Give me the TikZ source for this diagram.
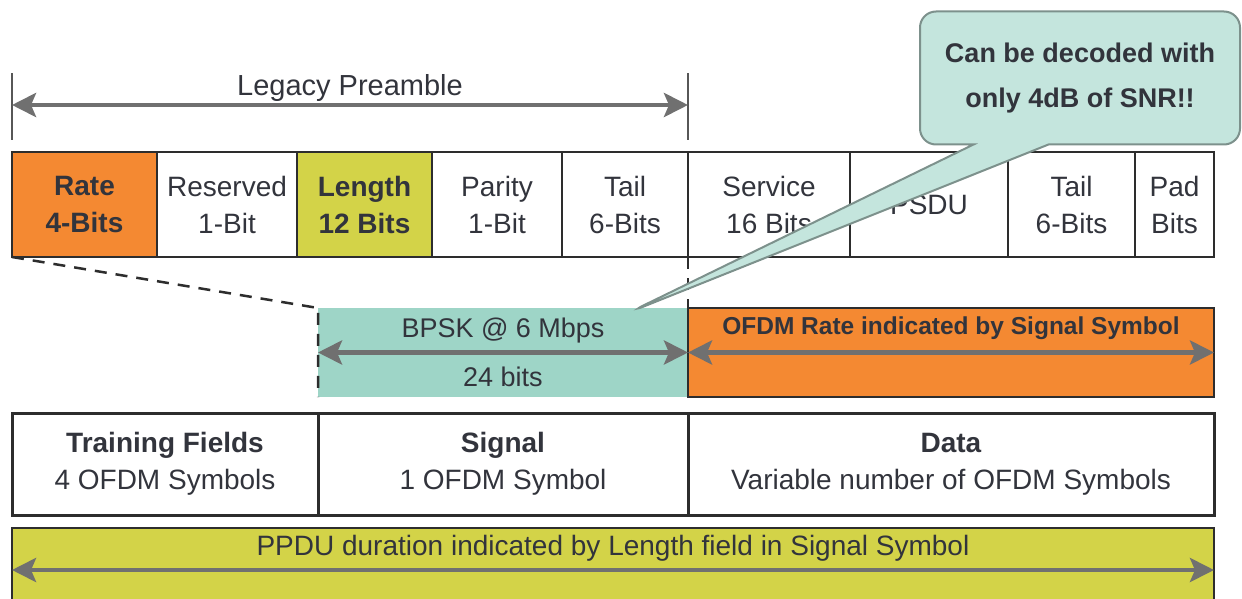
\documentclass[tikz,border=0pt]{standalone}
\usepackage{fontspec}
\setmainfont{Liberation Sans}
\usepackage{xcolor}
\usepackage{tikz}
\usetikzlibrary{arrows,arrows.meta}
\usetikzlibrary{calc}
\usetikzlibrary{positioning}
\usetikzlibrary{shapes.callouts}

\definecolor{rateorange}{RGB}{244,137,50}
\definecolor{bpskteal}{RGB}{158,213,199}
\definecolor{lenyellow}{RGB}{211,211,72}
\definecolor{notefill}{RGB}{196,229,221}
\definecolor{notedraw}{RGB}{125,145,140}
\definecolor{dimgray}{RGB}{112,112,112}
\definecolor{boxline}{RGB}{45,45,45}
\definecolor{txt}{RGB}{50,52,60}

\begin{document}
\begin{tikzpicture}[x=1pt,y=-1pt,>={Stealth[length=24pt,width=24pt,inset=5pt]},semithick]
 	\tikzstyle{field}=[draw=boxline,line width=2.5pt,minimum height=105pt,inner sep=0pt,outer sep=0pt,align=center,text=txt,font=\fontsize{28}{37}\selectfont]
 	\tikzstyle{part}=[draw=boxline,line width=3pt,minimum height=102pt,inner sep=0pt,outer sep=0pt,align=center,text=txt,font=\fontsize{28}{37}\selectfont]
 	\tikzstyle{band}=[minimum height=89pt,inner sep=0pt,outer sep=0pt,align=center,text=txt]
 	\tikzstyle{dim}=[<->,draw=dimgray,fill=dimgray,line width=4.5pt]
 	\tikzstyle{tick}=[draw=boxline!80,line width=2pt]
 	\tikzstyle{cut}=[draw=boxline,line width=2.5pt,dash pattern=on 12pt off 9pt]

 	\useasboundingbox (0,0) rectangle (1242,599);

 	% signal + data fields
 	\node[field,fill=rateorange,minimum width=145pt,anchor=north west] (rate) at (12,152) {\textbf{Rate}\\\textbf{4-Bits}};
 	\node[field,minimum width=140pt,right=0pt of rate] (resv) {Reserved\\1-Bit};
 	\node[field,fill=lenyellow,minimum width=135pt,right=0pt of resv] (len) {\textbf{Length}\\\textbf{12 Bits}};
 	\node[field,minimum width=130pt,right=0pt of len] (par) {Parity\\1-Bit};
 	\node[field,minimum width=126pt,right=0pt of par] (tail1) {Tail\\6-Bits};
 	\node[field,minimum width=162pt,right=0pt of tail1] (serv) {Service\\16 Bits};
 	\node[field,minimum width=158pt,right=0pt of serv] (psdu) {PSDU};
 	\node[field,minimum width=127pt,right=0pt of psdu] (tail2) {Tail\\6-Bits};
 	\node[field,minimum width=79pt,right=0pt of tail2] (pad) {Pad\\Bits};

 	% legacy preamble span
 	\draw[tick] ([yshift=12pt]rate.north west) -- ++(0,-67);
 	\draw[tick] ([yshift=12pt]tail1.north east) -- ++(0,-67);
 	\draw[dim] ([yshift=47pt]rate.north west) -- ([yshift=47pt]tail1.north east);
 	\node[text=txt,font=\fontsize{29}{34}\selectfont] (legacy) at ($(rate.north west)!0.5!(tail1.north east)+(0,-64)$) {Legacy Preamble};

 	% modulation bands
 	\node[band,fill=bpskteal,minimum width=370pt,anchor=north east,font=\fontsize{27}{49}\selectfont] (bpsk) at (688,308) {BPSK @ 6 Mbps\\24 bits};
 	\node[band,fill=rateorange,draw=boxline,line width=2.5pt,minimum width=526pt,anchor=north west] (ofdm) at (688,308) {};
 	\node[text=txt,font=\bfseries\fontsize{24.5}{28}\selectfont] (ofdmtxt) at ($(ofdm.north)+(0,20)$) {OFDM Rate indicated by Signal Symbol};
 	\draw[cut] (rate.south west) -- (bpsk.north west) -- (bpsk.south west);
 	\draw[cut] (tail1.south east) -- (bpsk.north east);
 	\draw[dim] (bpsk.west) -- (bpsk.east);
 	\draw[dim] (ofdm.west) -- (ofdm.east);

 	% PPDU parts
 	\node[part,minimum width=306pt,anchor=north west] (train) at (12,413) {\textbf{Training Fields}\\4 OFDM Symbols};
 	\node[part,minimum width=370pt,right=0pt of train] (sig) {\textbf{Signal}\\1 OFDM Symbol};
 	\node[part,minimum width=526pt,right=0pt of sig] (data) {\textbf{Data}\\Variable number of OFDM Symbols};

 	\node[band,fill=lenyellow,draw=boxline,line width=2.5pt,minimum width=1202pt,minimum height=95pt,anchor=north west] (ppdu) at (12,528) {};
 	\node[text=txt,font=\fontsize{28}{32}\selectfont] (ppdutxt) at ($(ppdu.north)+(0,20)$) {PPDU duration indicated by Length field in Signal Symbol};
 	\draw[dim] ([yshift=-42pt]ppdu.north west) -- ([yshift=-42pt]ppdu.north east);

 	% note
 	\coordinate (tip) at (630,312);
 	\node[rectangle callout,fill=notefill,draw=notedraw,line width=2pt,rounded corners=16pt,minimum width=320pt,minimum height=133pt,
 	      callout absolute pointer={(tip)},callout pointer width=75pt,align=center,text=txt,font=\bfseries\fontsize{27}{45}\selectfont] (note) at (1080,78) {Can be decoded with\\only 4dB of SNR!!};
\end{tikzpicture}
\end{document}
